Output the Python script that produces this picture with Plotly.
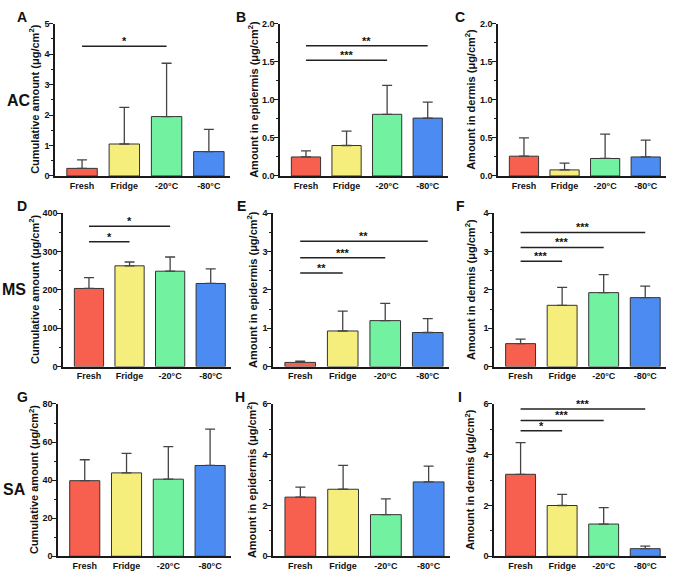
import plotly.graph_objects as go

W, H = 673, 577
categories = ["Fresh", "Fridge", "-20°C", "-80°C"]
bar_colors = ["#F7604F", "#F6EE7C", "#72F1A1", "#4C8CF2"]

# Means and SD (upper error) per panel
a_mean = [0.25, 1.05, 1.95, 0.80]
a_sd = [0.28, 1.20, 1.75, 0.73]
b_mean = [0.25, 0.40, 0.81, 0.76]
b_sd = [0.08, 0.19, 0.38, 0.21]
c_mean = [0.26, 0.08, 0.23, 0.25]
c_sd = [0.24, 0.09, 0.32, 0.22]
d_mean = [204, 263, 249, 217]
d_sd = [28, 10, 37, 38]
e_mean = [0.11, 0.93, 1.20, 0.89]
e_sd = [0.03, 0.52, 0.45, 0.36]
f_mean = [0.60, 1.60, 1.93, 1.80]
f_sd = [0.12, 0.47, 0.47, 0.30]
g_mean = [39.7, 43.8, 40.5, 47.7]
g_sd = [11.0, 10.2, 17.1, 19.1]
h_mean = [2.33, 2.64, 1.64, 2.93]
h_sd = [0.39, 0.94, 0.62, 0.62]
i_mean = [3.23, 2.00, 1.27, 0.30]
i_sd = [1.25, 0.44, 0.65, 0.10]

# significance brackets: (from index, to index, y level, label)
a_sig = [(0, 2, 4.26, "*")]
b_sig = [(0, 3, 1.71, "**"), (0, 2, 1.52, "***")]
c_sig = []
d_sig = [(0, 2, 366, "*"), (0, 1, 326, "*")]
e_sig = [(0, 3, 3.27, "**"), (0, 2, 2.84, "***"), (0, 1, 2.44, "**")]
f_sig = [(0, 3, 3.50, "***"), (0, 2, 3.11, "***"), (0, 1, 2.75, "***")]
g_sig = []
h_sig = []
i_sig = [(0, 3, 5.80, "***"), (0, 2, 5.35, "***"), (0, 1, 4.94, "*")]

y_cum = "Cumulative amount (μg/cm<sup>2</sup>)"
y_epi = "Amount in epidermis (μg/cm<sup>2</sup>)"
y_der = "Amount in dermis (μg/cm<sup>2</sup>)"

panels = [
    dict(letter="A", mean=a_mean, sd=a_sd, sig=a_sig, ymax=5, dtick=1, minor=0.5, fmt="d", title=y_cum, px=(55, 230), py=(19, 174), tx=34, lx=22),
    dict(letter="B", mean=b_mean, sd=b_sd, sig=b_sig, ymax=2, dtick=0.5, minor=0.25, fmt=".1f", title=y_epi, px=(280, 448), py=(19, 174), tx=253, lx=241),
    dict(letter="C", mean=c_mean, sd=c_sd, sig=c_sig, ymax=2, dtick=0.5, minor=0.25, fmt=".1f", title=y_der, px=(498, 666), py=(19, 174), tx=470, lx=460),
    dict(letter="D", mean=d_mean, sd=d_sd, sig=d_sig, ymax=400, dtick=100, minor=50, fmt="d", title=y_cum, px=(63, 231), py=(212, 368), tx=34, lx=22),
    dict(letter="E", mean=e_mean, sd=e_sd, sig=e_sig, ymax=4, dtick=1, minor=0.5, fmt="d", title=y_epi, px=(273, 449), py=(212, 368), tx=252, lx=241),
    dict(letter="F", mean=f_mean, sd=f_sd, sig=f_sig, ymax=4, dtick=1, minor=0.5, fmt="d", title=y_der, px=(494, 666), py=(212, 368), tx=470, lx=460),
    dict(letter="G", mean=g_mean, sd=g_sd, sig=g_sig, ymax=80, dtick=20, minor=10, fmt="d", title=y_cum, px=(58, 231), py=(406, 561), tx=34, lx=22),
    dict(letter="H", mean=h_mean, sd=h_sd, sig=h_sig, ymax=6, dtick=2, minor=1, fmt="d", title=y_epi, px=(273, 450), py=(406, 561), tx=252, lx=240),
    dict(letter="I", mean=i_mean, sd=i_sd, sig=i_sig, ymax=6, dtick=2, minor=1, fmt="d", title=y_der, px=(494, 666), py=(406, 561), tx=470, lx=460),
]

row_labels = [("AC", 19, 97), ("MS", 14, 290), ("SA", 14, 493)]

FONT = "Liberation Sans, Arial, sans-serif"
AXC = "#1a1a1a"

fig = go.Figure()
layout = dict(
    width=W, height=H, margin=dict(l=0, r=0, t=0, b=0),
    paper_bgcolor="white", plot_bgcolor="white", showlegend=False,
    font=dict(family=FONT, color="#111"), bargap=0.28,
)
annotations = []
shapes = []

for k, p in enumerate(panels):
    n = "" if k == 0 else str(k + 1)
    xa, ya = "x" + n, "y" + n
    fig.add_trace(go.Bar(
        x=list(range(len(categories))), y=p["mean"], xaxis=xa, yaxis=ya,
        marker=dict(color=bar_colors, line=dict(color="#333333", width=1)),
        width=0.72,
        error_y=dict(type="data", symmetric=False, array=p["sd"],
                     arrayminus=[0] * len(p["sd"]), color="#444444",
                     thickness=1.3, width=5),
    ))
    x0, x1 = p["px"]
    yt, yb = p["py"]
    layout["xaxis" + n] = dict(
        domain=[x0 / W, x1 / W], anchor=ya, range=[-0.64, 3.5],
        tickvals=list(range(len(categories))), ticktext=categories,
        showline=True, linecolor=AXC, linewidth=1.5, ticks="", showgrid=False,
        zeroline=False, tickfont=dict(family=FONT, size=9, color="#111", weight="bold"),
        fixedrange=True,
    )
    layout["yaxis" + n] = dict(
        domain=[1 - yb / H, 1 - yt / H], anchor=xa, range=[0, p["ymax"]],
        dtick=p["dtick"], tick0=0, tickformat=p["fmt"],
        showline=True, linecolor=AXC, linewidth=1.5, ticks="outside", ticklen=4,
        tickwidth=1.2, tickcolor=AXC, showgrid=False, zeroline=False,
        ticklabelstandoff=-2,
        minor=dict(dtick=p["minor"], ticks="outside", ticklen=2.5, tickwidth=1, tickcolor=AXC),
        tickfont=dict(family=FONT, size=9, color="#111", weight="bold"),
        fixedrange=True,
    )
    annotations.append(dict(
        text="<b>" + p["title"] + "</b>", textangle=-90, xref="paper", yref="paper",
        x=p["tx"] / W, y=1 - (yt + yb) / 2 / H, xanchor="center", yanchor="middle",
        showarrow=False, font=dict(family=FONT, size=11, color="#111"),
    ))
    annotations.append(dict(
        text="<b>" + p["letter"] + "</b>", xref="paper", yref="paper",
        x=p["lx"] / W, y=1 - (yt - 7) / H, xanchor="center", yanchor="middle",
        showarrow=False, font=dict(family=FONT, size=14, color="#111"),
    ))
    for (i, j, yv, lab) in p["sig"]:
        shapes.append(dict(type="line", xref=xa, yref=ya, x0=i, x1=j, y0=yv, y1=yv,
                           line=dict(color="#222", width=1.5)))
        annotations.append(dict(
            text="<b>" + lab + "</b>", xref=xa, yref=ya, x=(i + j) / 2, y=yv,
            xanchor="center", yanchor="bottom", yshift=-3, showarrow=False,
            font=dict(family=FONT, size=11, color="#111"),
        ))

for (txt, x, y) in row_labels:
    annotations.append(dict(
        text="<b>" + txt + "</b>", xref="paper", yref="paper", x=x / W, y=1 - y / H,
        xanchor="center", yanchor="middle", showarrow=False,
        font=dict(family=FONT, size=16, color="#111"),
    ))

layout["annotations"] = annotations
layout["shapes"] = shapes
fig.update_layout(**layout)
fig.write_html("out.html")
